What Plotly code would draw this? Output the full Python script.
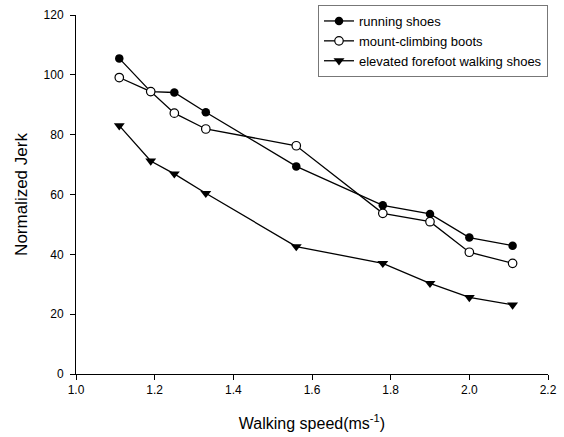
import plotly.graph_objects as go

speed = [1.11, 1.19, 1.25, 1.33, 1.56, 1.78, 1.90, 2.00, 2.11]
running = [105.5, 94.4, 94.1, 87.5, 69.4, 56.4, 53.5, 45.6, 42.9]
mount = [99.1, 94.4, 87.2, 81.9, 76.3, 53.7, 50.9, 40.7, 37.0]
elevated = [83.0, 71.2, 66.9, 60.4, 42.6, 37.0, 30.3, 25.6, 23.1]

fig = go.Figure()
fig.add_trace(go.Scatter(x=speed, y=running, name="running shoes", mode="lines+markers",
                         line=dict(color="black", width=1.3),
                         marker=dict(symbol="circle", size=8.5, color="black")))
fig.add_trace(go.Scatter(x=speed, y=mount, name="mount-climbing boots", mode="lines+markers",
                         line=dict(color="black", width=1.3),
                         marker=dict(symbol="circle", size=8.5, color="white",
                                     line=dict(color="black", width=1.2))))
fig.add_trace(go.Scatter(x=speed, y=elevated, name="elevated forefoot walking shoes", mode="lines+markers",
                         line=dict(color="black", width=1.3),
                         marker=dict(symbol="triangle-down", size=9.5, color="black")))

H = 437
top, bottom = 5, 63
plot_h = H - top - bottom
fig.update_layout(
    width=564, height=H,
    margin=dict(l=76, r=16, t=top, b=bottom, autoexpand=False),
    paper_bgcolor="white", plot_bgcolor="white",
    font=dict(family="Liberation Sans, Arial, sans-serif", size=12, color="black"),
    showlegend=True,
    legend=dict(x=1.0, y=1.0, xanchor="right", yanchor="top",
                bordercolor="#777", borderwidth=1, bgcolor="white",
                font=dict(size=13), tracegroupgap=0, itemwidth=30),
    xaxis=dict(range=[1.0, 2.2], tickvals=[1.0, 1.2, 1.4, 1.6, 1.8, 2.0, 2.2],
               ticktext=["1.0", "1.2", "1.4", "1.6", "1.8", "2.0", "2.2"],
               showline=True, linecolor="black", linewidth=1, ticks="outside",
               ticklen=5, tickcolor="black", showgrid=False, zeroline=False,
               automargin=False, tickfont=dict(size=12),
               title=dict(text="Walking speed(ms<sup>-1</sup>)", font=dict(size=16), standoff=21)),
    yaxis=dict(range=[0, 120], tickvals=[0, 20, 40, 60, 80, 100, 120],
               domain=[0, (374 - 15) / plot_h],
               showline=True, linecolor="black", linewidth=1, ticks="outside",
               ticklen=5, tickcolor="black", showgrid=False, zeroline=False,
               automargin=False, tickfont=dict(size=12), ticklabelstandoff=4,
               title=dict(text="Normalized Jerk", font=dict(size=17), standoff=11)),
)

fig.write_html("out.html", config={"displayModeBar": False},
               post_script="document.body.style.margin='0px';")
